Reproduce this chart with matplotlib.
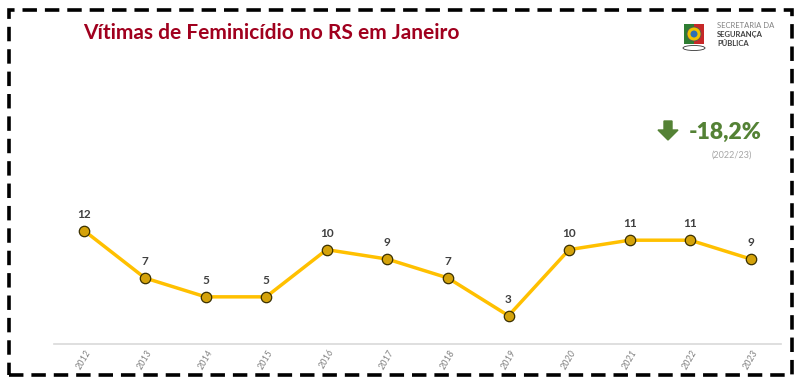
import matplotlib.pyplot as plt
from matplotlib.patches import Rectangle, FancyArrow, Ellipse

anos = ['2012', '2013', '2014', '2015', '2016', '2017', '2018', '2019', '2020', '2021', '2022', '2023']
vitimas = [12, 7, 5, 5, 10, 9, 7, 3, 10, 11, 11, 9]
variacao = '-18,2%'
periodo = '(2022/23)'

plt.rcParams['font.family'] = ['Lato', 'DejaVu Sans']

W, H = 800, 381
fig = plt.figure(figsize=(W / 100, H / 100), dpi=100)
fig.patch.set_facecolor('white')


def px(x, y):
    # posição em pixels (origem no canto superior esquerdo) -> fração da figura
    return x / W, 1 - y / H


# moldura tracejada
fig.patches.append(Rectangle((9/W, 6/H), 783/W, 365/H, transform=fig.transFigure,
                             fill=False, ec='black', lw=2.6, ls=(0, (4, 2.2))))

ax = fig.add_axes([0.0675, 0.097, 0.909, 0.446])
x = range(len(anos))
ax.plot(x, vitimas, color='#FFC000', lw=2.5, marker='o', ms=7.5,
        mfc='#D4A20A', mec='#3a3000', mew=0.9, zorder=3)
for i, v in enumerate(vitimas):
    ax.annotate(str(v), (i, v), xytext=(0, 8), textcoords='offset points',
                ha='center', va='bottom', fontsize=8.5, fontweight='bold', color='#404040')

ax.set_xlim(-0.5, len(anos) - 0.5)
ax.set_ylim(0, 18)
ax.set_xticks(list(x))
ax.set_xticklabels(anos, rotation=60, fontsize=6.5, color='#7f7f7f', style='italic')
ax.tick_params(axis='x', length=0, pad=3)
ax.set_yticks([])
for s in ['top', 'left', 'right']:
    ax.spines[s].set_visible(False)
ax.spines['bottom'].set_color('#d9d9d9')
ax.spines['bottom'].set_linewidth(1.2)
ax.set_facecolor('none')

fig.text(*px(83, 33), 'Vítimas de Feminicídio no RS em Janeiro', fontsize=15,
         fontweight='bold', color='#A0001E', va='center', ha='left')

# variação
fig.patches.append(FancyArrow(*px(668, 121), 0, -19/H, width=8/W,
                              head_width=20/W, head_length=10/H, length_includes_head=True,
                              transform=fig.transFigure, color='#548235'))
fig.text(*px(689, 132), variacao, fontsize=16.5, fontweight='heavy',
         color='#548235', va='center', ha='left')
fig.text(*px(712, 155), periodo, fontsize=6.5, color='#a6a6a6', va='center', ha='left')

# brasão (simplificado) e texto da secretaria
fig.patches.append(Rectangle(px(684, 44), 10/W, 20/H, transform=fig.transFigure,
                             fc='#2e7d32', ec='none'))
fig.patches.append(Rectangle(px(694, 44), 10/W, 20/H, transform=fig.transFigure,
                             fc='#c62828', ec='none'))
fig.patches.append(Ellipse(px(694, 34), 14/W, 14/H, transform=fig.transFigure,
                           fc='#f2c200', ec='#555555', lw=0.6))
fig.patches.append(Ellipse(px(694, 34), 7/W, 7/H, transform=fig.transFigure,
                           fc='#2f6fb5', ec='none'))
fig.patches.append(Ellipse(px(694, 48), 22/W, 5/H, transform=fig.transFigure,
                           fc='white', ec='#333333', lw=0.6))
fig.text(*px(717, 26), 'SECRETARIA DA', fontsize=5.5, color='#808080', va='center')
fig.text(*px(717, 35), 'SEGURANÇA', fontsize=5.5, color='#404040', fontweight='bold', va='center')
fig.text(*px(717, 44), 'PÚBLICA', fontsize=5.5, color='#404040', fontweight='bold', va='center')

fig.savefig('out.png', dpi=100)
